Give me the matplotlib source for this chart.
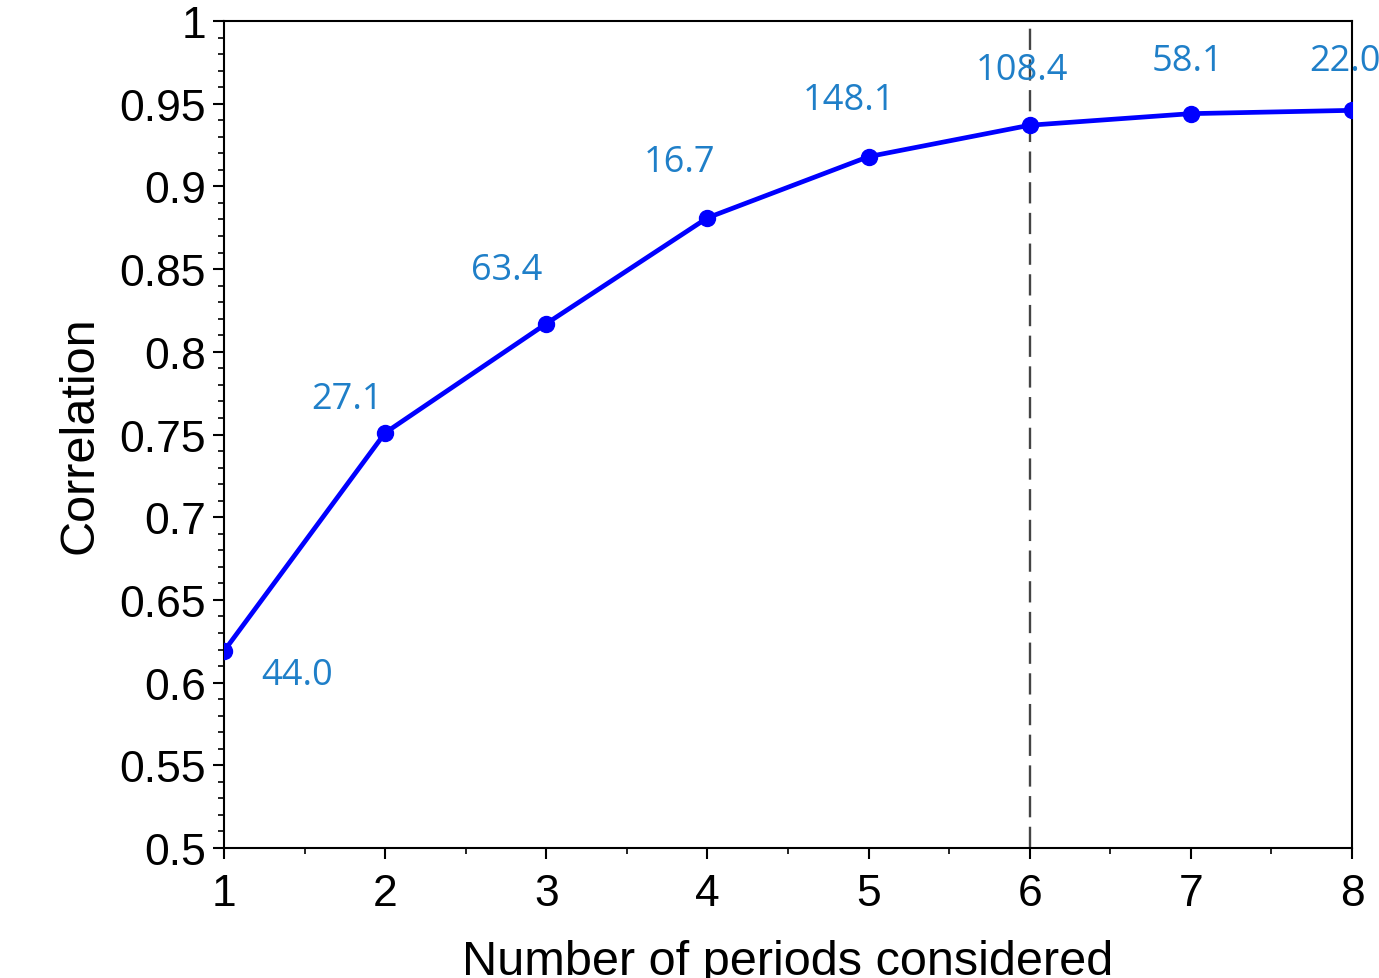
import matplotlib
matplotlib.use("Agg")
import matplotlib.pyplot as plt
from matplotlib.ticker import MultipleLocator

# data
periods = [1, 2, 3, 4, 5, 6, 7, 8]
correlation = [0.619, 0.751, 0.817, 0.881, 0.918, 0.937, 0.944, 0.946]
point_labels = [44.0, 27.1, 63.4, 16.7, 148.1, 108.4, 58.1, 22.0]
chosen_period = 6

# label offsets from each point, in pixels
label_offsets = [(73, -24), (-38, 34), (-40, 54), (-28, 56),
                 (-20, 57), (-8, 55), (-3, 53), (-7, 49)]

plt.rcParams['font.family'] = ['Liberation Sans', 'DejaVu Sans']

fig = plt.figure(figsize=(13.79, 9.79), dpi=100)
ax = fig.add_axes([0.1624, 0.1328, 0.818, 0.8447])

ax.plot(periods, correlation, color='#0000ff', linewidth=3.4, marker='o',
        markersize=11.5, zorder=3)
ax.axvline(chosen_period, color='#444444', linewidth=1.7,
           linestyle=(0, (9, 4)), zorder=2)

for x, y, lab, off in zip(periods, correlation, point_labels, label_offsets):
    ax.annotate("{:.1f}".format(lab), (x, y), xytext=off,
                textcoords='offset pixels', ha='center', va='center',
                color='#1f7fc8', fontsize=26, family=['Open Sans', 'DejaVu Sans'],
                annotation_clip=False)

ax.set_xlim(1, 8)
ax.set_ylim(0.5, 1.0)
ax.xaxis.set_major_locator(MultipleLocator(1))
ax.xaxis.set_minor_locator(MultipleLocator(0.5))
ax.yaxis.set_major_locator(MultipleLocator(0.05))
ax.yaxis.set_minor_locator(MultipleLocator(0.01))
ax.yaxis.set_major_formatter(lambda v, p: "{:g}".format(round(v, 2)))

ax.tick_params(which='major', direction='out', length=8, width=1.5,
               labelsize=32)
ax.tick_params(axis='x', which='major', pad=10)
ax.tick_params(axis='y', which='major', pad=5)
ax.tick_params(which='minor', direction='out', length=4, width=1.2)
ax.tick_params(top=False, right=False, which='both')

for s in ax.spines.values():
    s.set_linewidth(1.5)

ax.set_xlabel("Number of periods considered", fontsize=35, labelpad=18)
ax.set_ylabel("Correlation", fontsize=35, labelpad=12)

fig.savefig("out.png", dpi=100)
